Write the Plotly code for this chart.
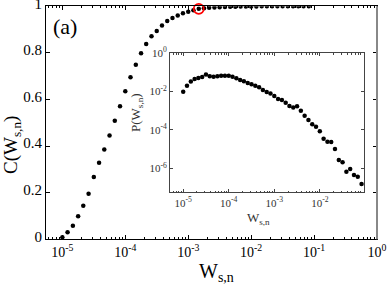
import plotly.graph_objects as go

# ---------------- data ----------------
w_main = [1.00e-5, 1.21e-5, 1.47e-5, 1.78e-5, 2.15e-5, 2.61e-5, 3.16e-5, 3.83e-5, 4.64e-5, 5.62e-5, 6.81e-5, 8.25e-5,
          1.00e-4, 1.21e-4, 1.47e-4, 1.78e-4, 2.15e-4, 2.61e-4, 3.16e-4, 3.83e-4, 4.64e-4, 5.62e-4, 6.81e-4, 8.25e-4,
          1.00e-3, 1.21e-3, 1.47e-3, 1.78e-3, 2.15e-3, 2.61e-3, 3.16e-3, 3.83e-3, 4.64e-3, 5.62e-3, 6.81e-3, 8.25e-3,
          1.00e-2, 1.21e-2, 1.47e-2, 1.78e-2, 2.15e-2, 2.61e-2, 3.16e-2, 3.83e-2, 4.64e-2, 5.62e-2, 6.81e-2, 8.25e-2]
c_main = [0.009, 0.030, 0.058, 0.099, 0.144, 0.196, 0.267, 0.329, 0.385, 0.446, 0.509, 0.571,
          0.635, 0.695, 0.749, 0.798, 0.838, 0.871, 0.894, 0.918, 0.937, 0.950, 0.961, 0.970,
          0.977, 0.983, 0.989, 0.992, 0.994, 0.995, 0.996, 0.997, 0.998, 0.998, 0.999, 0.999,
          0.999, 0.999, 1.0, 1.0, 1.0, 1.0, 1.0, 1.0, 1.0, 1.0, 1.0, 1.0]

highlight_w = [1.47e-3]
highlight_c = [0.989]

w_inset = w_main
p_inset = [9.8e-3, 2.0e-2, 3.3e-2, 4.4e-2, 5.0e-2, 5.6e-2, 7.6e-2, 6.2e-2, 5.9e-2, 6.2e-2, 6.5e-2, 6.6e-2,
           6.5e-2, 5.8e-2, 4.9e-2, 4.0e-2, 3.4e-2, 2.75e-2, 2.4e-2, 2.0e-2, 1.66e-2, 1.2e-2, 9.3e-3, 7.8e-3,
           5.9e-3, 4.1e-3, 3.6e-3, 2.6e-3, 1.78e-3, 1.45e-3, 1.7e-3, 1.0e-3, 5.4e-4, 3.3e-4, 2.0e-4, 1.48e-4,
           8.5e-5, 3.5e-5, 2.45e-5, 2.4e-5, 1.02e-5, 2.75e-6, 2.1e-6, 6.8e-7, 9.3e-7, 4.6e-7, 3.7e-7, 1.55e-7]

main_xtick_vals = [1e-5, 1e-4, 1e-3, 1e-2, 1e-1, 1]
main_xtick_text = ["10<sup>-5</sup>", "10<sup>-4</sup>", "10<sup>-3</sup>", "10<sup>-2</sup>", "10<sup>-1</sup>", "10<sup>0</sup>"]
main_ytick_vals = [0, 0.2, 0.4, 0.6, 0.8, 1]
main_ytick_text = ["0", "0.2", "0.4", "0.6", "0.8", "1"]
inset_xtick_vals = [1e-5, 1e-4, 1e-3, 1e-2, 1e-1]
inset_xtick_text = ["10<sup>-5</sup>", "10<sup>-4</sup>", "10<sup>-3</sup>", "10<sup>-2</sup>", "10<sup>-1</sup>"]
inset_ytick_vals = [1, 1e-2, 1e-4, 1e-6]
inset_ytick_text = ["10<sup>0</sup>", "10<sup>-2</sup>", "10<sup>-4</sup>", "10<sup>-6</sup>"]

FONT = "Liberation Serif, DejaVu Serif, serif"
W, H = 388, 288

fig = go.Figure()
fig.add_trace(go.Scatter(x=w_main, y=c_main, mode="markers",
                         marker=dict(color="black", size=4.5), xaxis="x", yaxis="y", showlegend=False,
                         hoverinfo="skip"))
fig.add_trace(go.Scatter(x=highlight_w, y=highlight_c, mode="markers",
                         marker=dict(color="red", size=10, symbol="circle-open",
                                     line=dict(color="red", width=1.8)),
                         xaxis="x", yaxis="y", showlegend=False, cliponaxis=False, hoverinfo="skip"))
fig.add_trace(go.Scatter(x=w_inset, y=p_inset, mode="markers",
                         marker=dict(color="black", size=4.5), xaxis="x2", yaxis="y2", showlegend=False,
                         hoverinfo="skip"))

axis_common = dict(showgrid=False, zeroline=False, showline=True, linewidth=1,
                   ticks="inside", mirror="allticks", automargin=False,
                   ticklabeloverflow="allow")

fig.update_layout(
    width=W, height=H, margin=dict(l=0, r=0, t=0, b=0, pad=0, autoexpand=False),
    paper_bgcolor="white", plot_bgcolor="white",
    font=dict(family=FONT, color="black"),
    xaxis=dict(type="log", range=[-5.26, 0], domain=[46 / W, 377 / W], anchor="y",
               tickmode="array", tickvals=main_xtick_vals, ticktext=main_xtick_text,
               tickfont=dict(size=14, family=FONT), ticklen=4, linecolor="black", tickcolor="black",
               minor=dict(ticks="inside", ticklen=2, tickcolor="black", dtick="D1", showgrid=False),
               **axis_common),
    yaxis=dict(range=[0, 1], domain=[(H - 239.3) / H, (H - 6.3) / H], anchor="x",
               tickmode="array", tickvals=main_ytick_vals, ticktext=main_ytick_text,
               tickfont=dict(size=15, family=FONT), ticklen=4, ticklabelshift=-3,
               linecolor="black", tickcolor="black", **axis_common),
    xaxis2=dict(type="log", range=[-5.29, -1.03], domain=[170 / W, 364 / W], anchor="y2",
                tickmode="array", tickvals=inset_xtick_vals, ticktext=inset_xtick_text,
                tickfont=dict(size=11, color="#333", family=FONT), ticklen=3,
                linecolor="#444", tickcolor="#444",
                minor=dict(ticks="inside", ticklen=1.5, tickcolor="#444", dtick="D1", showgrid=False),
                **axis_common),
    yaxis2=dict(type="log", range=[-7.24, 0], domain=[(H - 192.3) / H, (H - 53) / H], anchor="x2",
                tickmode="array", tickvals=inset_ytick_vals, ticktext=inset_ytick_text,
                tickfont=dict(size=11, color="#333", family=FONT), ticklen=3,
                linecolor="#444", tickcolor="#444", **axis_common),
    shapes=[dict(type="line", xref="x domain", yref="y domain", x0=1, x1=1, y0=0, y1=1,
                 line=dict(color="#888", width=2), layer="above")],
    hovermode=False,
)

annotations = [
    dict(text="(a)", x=51 / W, y=(H - 26) / H, xref="paper", yref="paper", xanchor="left", yanchor="middle",
         showarrow=False, font=dict(size=22, family=FONT)),
    dict(text="W<sub>s,n</sub>", x=216 / W, y=(H - 272) / H, xref="paper", yref="paper",
         xanchor="center", yanchor="middle", showarrow=False, font=dict(size=20, family=FONT)),
    dict(text="C(W<sub>s,n</sub>)", x=12 / W, y=(H - 145) / H, xref="paper", yref="paper", textangle=-90,
         xanchor="center", yanchor="middle", showarrow=False, font=dict(size=19, family=FONT)),
    dict(text="W<sub>s,n</sub>", x=258 / W, y=(H - 218) / H, xref="paper", yref="paper",
         xanchor="center", yanchor="middle", showarrow=False, font=dict(size=13, family=FONT, color="#333")),
    dict(text="P(W<sub>s,n</sub>)", x=136 / W, y=(H - 113) / H, xref="paper", yref="paper", textangle=-90,
         xanchor="center", yanchor="middle", showarrow=False, font=dict(size=13, family=FONT, color="#333")),
]
fig.update_layout(annotations=annotations)

fig.write_html("out.html", config={"displayModeBar": False, "staticPlot": True},
               post_script="document.body.style.margin='0';")
